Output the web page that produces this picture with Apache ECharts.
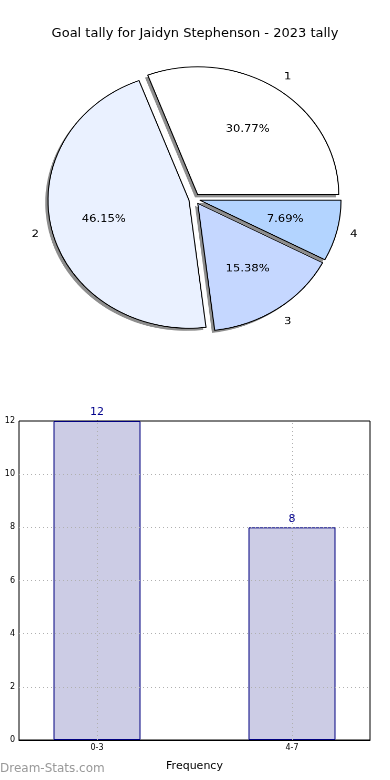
<!DOCTYPE html>
<html>
<head>
<meta charset="utf-8">
<script src="https://cdn.jsdelivr.net/npm/echarts@6/dist/echarts.min.js"></script>
<style>
html,body{margin:0;padding:0;background:#fff;}
#wrap{position:relative;width:390px;height:780px;overflow:hidden;}
#c{position:absolute;left:0;top:0;width:390px;height:780px;}
#p{position:absolute;left:0;top:0;width:390px;height:400px;
   transform-origin:194.5px 199px;transform:scale(1.05,0.953);}
</style>
</head>
<body>
<div id="wrap"><div id="c"></div><div id="p"></div></div>
<script>
// ---- data ----
var pieNames = ['1', '2', '3', '4'];
var pieValues = [4, 6, 2, 1];
var pieColors = ['#ffffff', '#eaf1ff', '#c5d7ff', '#b3d4ff'];
var barCategories = ['0-3', '4-7'];
var barValues = [12, 8];
var yTicks = [0, 2, 4, 6, 8, 10, 12];

var FONT = 'DejaVu Sans';
var CLEAR = 'rgba(0,0,0,0)';
var pieTotal = pieValues.reduce(function (a, b) { return a + b; }, 0);

// ---------------- bar chart ----------------
var chart = echarts.init(document.getElementById('c'), null, {renderer: 'canvas'});
var gridDot = {color: '#b0b0b0', type: [1, 3], width: 1};

chart.setOption({
  animation: false,
  backgroundColor: '#ffffff',
  title: {
    text: 'Goal tally for Jaidyn Stephenson - 2023 tally',
    left: 'center',
    top: 22,
    textStyle: {fontFamily: FONT, fontSize: 13, fontWeight: 'normal', color: '#000'}
  },
  grid: {
    left: 19, right: 20, top: 421, bottom: 40,
    outerBoundsMode: 'none',
    containLabel: false,
    show: true, borderColor: '#000', borderWidth: 1, backgroundColor: 'transparent'
  },
  xAxis: {
    type: 'value',
    min: -0.4, max: 1.4,
    name: 'Frequency',
    nameLocation: 'middle',
    nameGap: 21,
    nameTextStyle: {fontFamily: FONT, fontSize: 11, color: '#000'},
    axisLine: {show: true, lineStyle: {color: '#000'}},
    axisTick: {show: true, customValues: [0, 1], length: 3, inside: true, lineStyle: {color: '#000'}},
    axisLabel: {
      customValues: [0, 1],
      fontFamily: FONT, fontSize: 8, color: '#000', margin: 4,
      formatter: function (v) { return barCategories[Math.round(v)]; }
    },
    splitLine: {show: false}
  },
  yAxis: {
    type: 'value',
    min: 0, max: 12, interval: 2,
    axisLine: {show: true, lineStyle: {color: '#000'}},
    axisTick: {show: true, length: 3, lineStyle: {color: '#000'}},
    axisLabel: {fontFamily: FONT, fontSize: 8, color: '#000', margin: 4,
      formatter: function (v) { return yTicks.indexOf(v) >= 0 ? String(v) : ''; }},
    splitLine: {show: false}
  },
  graphic: [
    {
      type: 'text',
      left: 0,
      top: 763,
      style: {text: 'Dream-Stats.com', fill: '#999999', font: '12px "DejaVu Sans"'}
    },
    {
      type: 'text',
      x: -4, y: 580,
      rotation: Math.PI / 2,
      style: {text: 'Goals in Match', fill: '#000', font: '10px "DejaVu Sans"',
        align: 'center', verticalAlign: 'middle'}
    }
  ],
  series: [{
    type: 'bar',
    barWidth: 87,
    data: barValues.map(function (v, i) { return [i, v]; }),
    itemStyle: {color: '#ccccE5', borderColor: '#000080', borderWidth: 1},
    label: {show: true, position: 'top', distance: 3,
      fontFamily: FONT, fontSize: 11, color: '#00008b',
      formatter: function (p) { return String(p.value[1]); }},
    emphasis: {disabled: true},
    markLine: {
      silent: true,
      symbol: ['none', 'none'],
      label: {show: false},
      lineStyle: gridDot,
      emphasis: {disabled: true},
      data: yTicks.slice(1, -1).map(function (v) { return {yAxis: v}; })
        .concat(barCategories.map(function (c, i) { return {xAxis: i}; }))
    }
  }]
});

// ---------------- pie chart (slightly elliptical via container scale) ----------------
var pie = echarts.init(document.getElementById('p'), null, {renderer: 'canvas', devicePixelRatio: 2});
var R = 134.3;
var CX = 194.5, CY = 199;
var OFFSET = 5.4;
var SH_X = -2.6, SH_Y = 2.7;

function clearStyle() {
  return {color: CLEAR, borderColor: CLEAR, borderWidth: 0};
}
function basePie(center, radius) {
  return {
    type: 'pie',
    center: center,
    radius: radius,
    startAngle: 0,
    clockwise: false,
    selectedMode: 'multiple',
    selectedOffset: OFFSET,
    silent: true,
    avoidLabelOverlap: false,
    label: {show: false},
    labelLine: {show: false},
    emphasis: {disabled: true},
    select: {itemStyle: {}}
  };
}
function pieData(styleFn) {
  return pieNames.map(function (n, i) {
    return {name: n, value: pieValues[i], selected: true, itemStyle: styleFn(i)};
  });
}

var pieSeries = [];
// draw in matplotlib order: shadow k, wedge k
pieNames.forEach(function (n, k) {
  var sh = basePie([CX + SH_X, CY + SH_Y], [0, R]);
  sh.data = pieData(function (i) {
    return i === k ? {color: '#8e8e8e', borderWidth: 0} : clearStyle();
  });
  pieSeries.push(sh);
  var w = basePie([CX, CY], [0, R]);
  w.data = pieData(function (i) {
    return i === k ? {color: pieColors[i], borderColor: '#000', borderWidth: 1} : clearStyle();
  });
  pieSeries.push(w);
});

// percentage labels at 0.6 radius
var pct = basePie([CX, CY], [R * 0.2, R]);
pct.label = {
  show: true, position: 'inside',
  fontFamily: FONT, fontSize: 11, color: '#000',
  formatter: function (p) { return (p.value / pieTotal * 100).toFixed(2) + '%'; }
};
pct.data = pieData(clearStyle);
pieSeries.push(pct);

// name labels at 1.1 radius
var nm = basePie([CX, CY], [R, R * 1.2]);
nm.label = {show: true, position: 'inside', fontFamily: FONT, fontSize: 11, color: '#000', formatter: '{b}'};
nm.data = pieData(clearStyle);
pieSeries.push(nm);

pie.setOption({
  animation: false,
  backgroundColor: 'transparent',
  series: pieSeries
});
</script>
</body>
</html>
